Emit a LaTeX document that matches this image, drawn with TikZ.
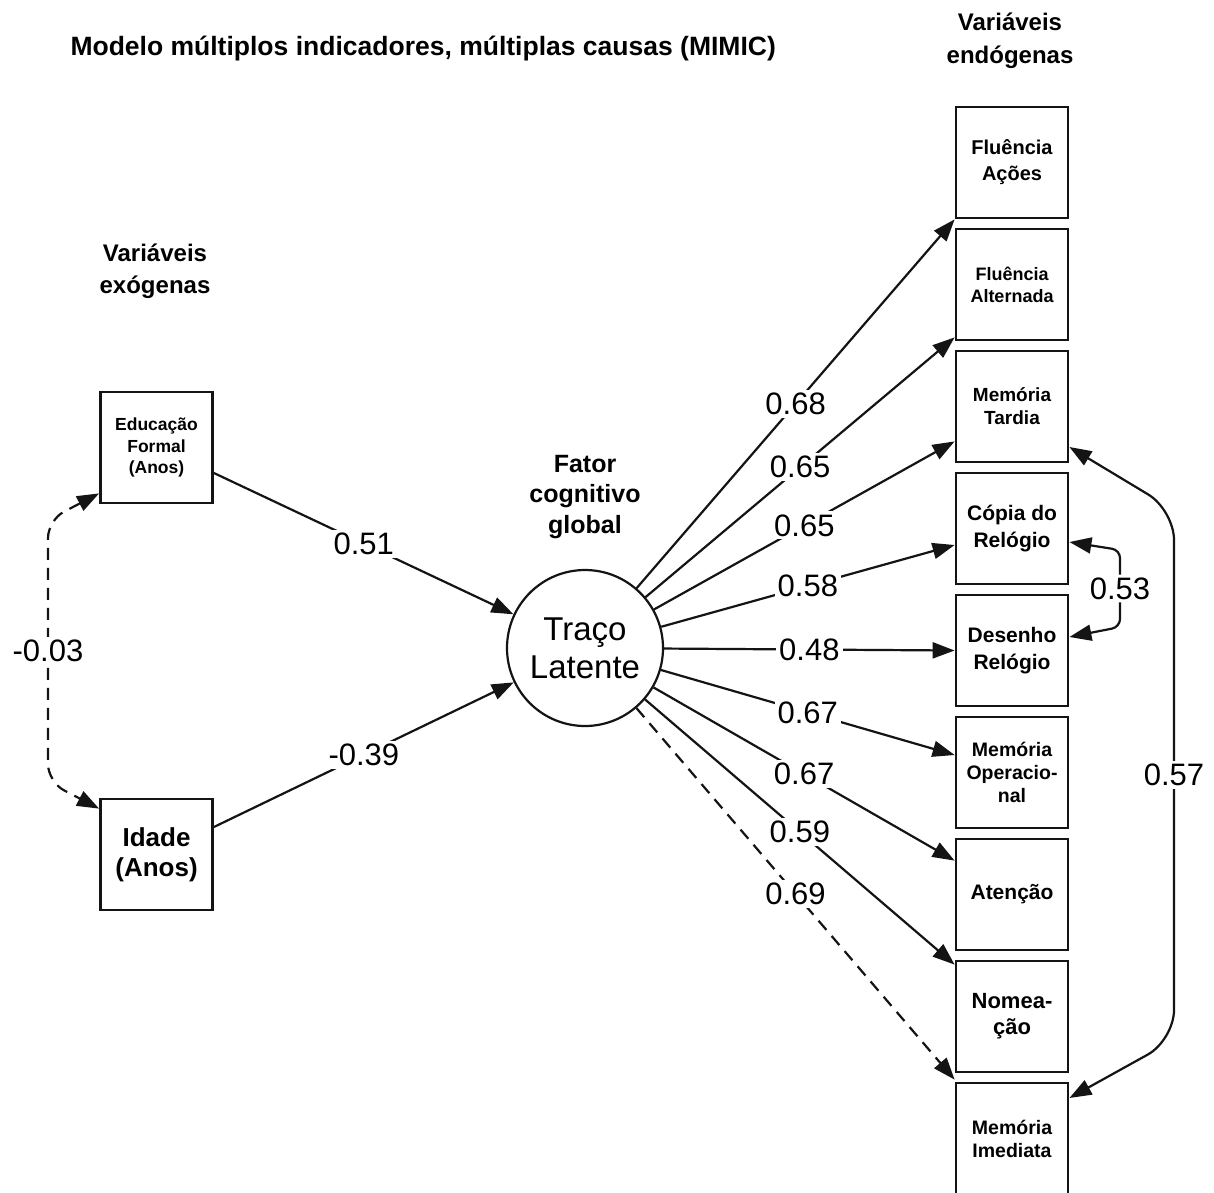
\documentclass[tikz,border=0pt]{standalone}
\usepackage{fontspec}
\setmainfont{Liberation Sans}
\usetikzlibrary{arrows.meta,calc}

\newcommand\fsz[2]{\fontsize{#1}{#2}\selectfont}

\begin{document}
\begin{tikzpicture}[x=1pt,y=-1pt,
  ink/.style={draw=black!92},
  varbox/.style={ink, line width=2.8pt, minimum width=112pt, minimum height=111pt,
    inner sep=0pt, align=center, text=black},
  latent/.style={circle, ink, line width=2.2pt, minimum size=156pt, inner sep=0pt,
    align=center, text=black, font=\fsz{33}{38}},
  heading/.style={align=center, text=black},
  tip/.tip={Triangle[length=22pt,width=16pt]},
  arr/.style={ink, line width=2.2pt, -tip},
  arrtwo/.style={ink, line width=2.2pt, tip-tip},
  dsh/.style={dash pattern=on 12pt off 8pt},
  lbl/.style={fill=white, inner sep=3pt, text=black, font=\fsz{31}{31}}
]
\useasboundingbox (0,0) rectangle (1214,1192);
\clip (0,0) rectangle (1214,1192);
\fill[white] (0,0) rectangle (1214,1192);

% headings
\node[anchor=base west, text=black, font=\bfseries\fsz{26.5}{32}] (title) at (67,55)
  {Modelo múltiplos indicadores, múltiplas causas (MIMIC)};
\node[heading, font=\bfseries\fsz{24}{33}] (hEnd) at (1010,41) {Variáveis\\endógenas};
\node[heading, font=\bfseries\fsz{24}{32}] (hExo) at (155,271) {Variáveis\\exógenas};
\node[heading, font=\bfseries\fsz{25}{30.5}] (hFat) at (585,497) {Fator\\cognitivo\\global};

% exogenous variables
\node[varbox, font=\bfseries\fsz{17.5}{21.5}] (Edu) at (156.5,447.5) {Educação\\Formal\\(Anos)};
\node[varbox, font=\bfseries\fsz{26}{30}] (Ida) at (156.5,854.5) {Idade\\(Anos)};

% latent trait
\node[latent] (T) at (585,648) {Traço\\Latente};

% endogenous indicators
\node[varbox, font=\bfseries\fsz{20}{26}]   (F1) at (1012,162.5)  {Fluência\\Ações};
\node[varbox, font=\bfseries\fsz{18}{22}]   (F2) at (1012,284.5)  {Fluência\\Alternada};
\node[varbox, font=\bfseries\fsz{19}{23}]   (F3) at (1012,406.5)  {Memória\\Tardia};
\node[varbox, font=\bfseries\fsz{21}{27}]   (F4) at (1012,528.5)  {Cópia do\\Relógio};
\node[varbox, font=\bfseries\fsz{21}{27}]   (F5) at (1012,650.5)  {Desenho\\Relógio};
\node[varbox, font=\bfseries\fsz{19.5}{23}] (F6) at (1012,772.5)  {Memória\\Operacio-\\nal};
\node[varbox, font=\bfseries\fsz{21}{26}]   (F7) at (1012,894.5)  {Atenção};
\node[varbox, font=\bfseries\fsz{22}{26}]   (F8) at (1012,1016.5) {Nomea-\\ção};
\node[varbox, font=\bfseries\fsz{19.5}{23}] (F9) at (1012,1138.5) {Memória\\Imediata};

% causes of the latent trait
\draw[arr] ([yshift=-25.5pt]Edu.east) -- node[lbl]{0.51} (T);
\draw[arr] ([yshift=27.5pt]Ida.east) -- node[lbl]{-0.39} (T);

% covariance between the exogenous variables
\coordinate (ea) at (48,520);
\coordinate (eb) at (48,782);
\draw[arrtwo, dsh, rounded corners=18pt] ([yshift=11pt]Edu.south west) -- (ea)
  -- node[lbl]{-0.03} (eb) -- ([yshift=-11pt]Ida.north west);

% factor loadings
\draw[arr] (T) -- node[lbl]{0.68} (F1.south west);
\draw[arr] (T) -- node[lbl]{0.65} ([yshift=4pt]F2.south west);
\draw[arr] (T) -- node[lbl]{0.65} ([yshift=22pt]F3.south west);
\draw[arr] (T) -- node[lbl]{0.58} ([yshift=-16.5pt]F4.west);
\draw[arr] (T) -- node[lbl]{0.48} (F5.west);
\draw[arr] (T) -- node[lbl]{0.67} ([yshift=17.5pt]F6.west);
\draw[arr] (T) -- node[lbl]{0.67} ([yshift=-23pt]F7.north west);
\draw[arr] (T) -- node[lbl]{0.59} ([yshift=-5pt]F8.north west);
\draw[arr, dsh] (T) -- node[lbl]{0.69} ([yshift=2pt]F9.north west);

% residual covariances
\coordinate (ra) at (1120,550);
\coordinate (rb) at (1120,627);
\draw[arrtwo, rounded corners=8pt] ([yshift=-13.5pt]F4.east) -- (ra)
  -- node[lbl]{0.53} (rb) -- ([yshift=13.5pt]F5.east);
\coordinate (sa) at (1174,510);
\coordinate (sb) at (1174,1040);
\draw[arrtwo, rounded corners=30pt] ([yshift=-40.5pt]F3.east) -- (sa)
  -- node[lbl]{0.57} (sb) -- ([yshift=40.5pt]F9.east);
\end{tikzpicture}
\end{document}
